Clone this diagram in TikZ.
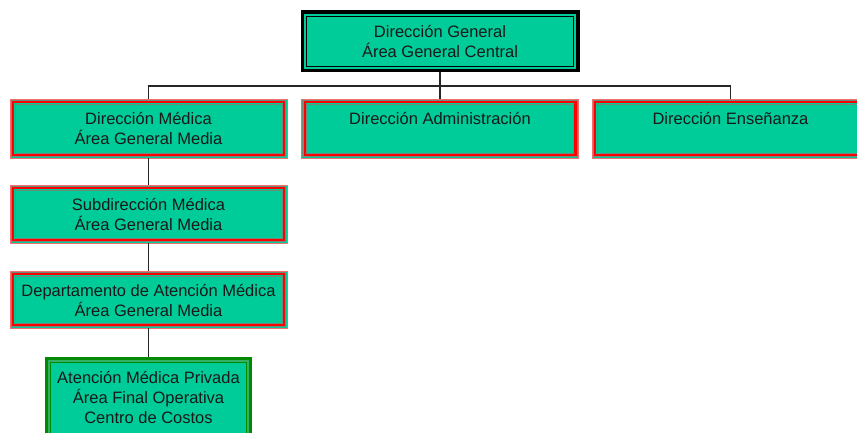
\documentclass[tikz,border=0pt]{standalone}
\usepackage{fontspec}
\setmainfont{Liberation Sans}
\definecolor{boxfill}{HTML}{00CC99}
\definecolor{frred}{HTML}{FF0000}
\definecolor{frpink}{HTML}{F07070}
\definecolor{frgray}{HTML}{6E8A78}
\definecolor{frgreen}{HTML}{008A00}
\definecolor{frlgreen}{HTML}{33B066}
\tikzset{
  box/.style={rectangle, fill=boxfill, inner sep=0pt, outer sep=0pt},
  pinkbox/.style={box, draw=frpink, line width=0.8pt},
  lbl/.style={anchor=north, inner sep=0pt, align=center, font=\fontsize{16.5}{20}\selectfont, text=black!90},
  conn/.style={draw=black!85, line width=1.2pt}
}
\begin{document}
\begin{tikzpicture}[x=1pt,y=-1pt]
\useasboundingbox (0,0) rectangle (857,432);
\clip (0,0) rectangle (857,432);
% boxes
\node[box, minimum width=279, minimum height=62] (top) at (440,41) {};
\node[pinkbox, minimum width=277, minimum height=59] (dm) at (148.5,128.5) {};
\node[pinkbox, minimum width=277, minimum height=59] (da) at (440,128.5) {};
\node[pinkbox, minimum width=277, minimum height=59] (de) at (730.5,128.5) {};
\node[pinkbox, minimum width=277, minimum height=58] (sm) at (148.5,214) {};
\node[pinkbox, minimum width=277, minimum height=57] (dam) at (148.5,299.5) {};
\node[box, minimum width=207, minimum height=85] (amp) at (148.5,399.5) {};
% frames
\foreach \n in {dm,da,de,sm,dam}{
  \draw[frgray, line width=0.7pt] ([shift={(1.2,1.2)}]\n.north west) rectangle ([shift={(-1.2,-1.2)}]\n.south east);
  \draw[frred, line width=2.4pt] ([shift={(3.2,3.2)}]\n.north west) rectangle ([shift={(-3.2,-3.2)}]\n.south east);
  \draw[frgray, line width=0.7pt] ([shift={(4.9,4.9)}]\n.north west) rectangle ([shift={(-4.9,-4.9)}]\n.south east);
}
\draw[black, line width=3.5pt] ([shift={(1.75,1.75)}]top.north west) rectangle ([shift={(-1.75,-1.75)}]top.south east);
\draw[black, line width=1pt] ([shift={(6,6)}]top.north west) rectangle ([shift={(-6,-6)}]top.south east);
\draw[frlgreen, line width=2pt] ([shift={(4,4)}]amp.north west) rectangle ([shift={(-4,-4)}]amp.south east);
\draw[frgreen, line width=3.2pt] ([shift={(1.6,1.6)}]amp.north west) rectangle ([shift={(-1.6,-1.6)}]amp.south east);
\draw[frgreen, line width=1pt] ([shift={(5.8,5.8)}]amp.north west) rectangle ([shift={(-5.8,-5.8)}]amp.south east);
% labels
\node[lbl] (top-t) at ([yshift=-15.5pt]top.north) {Dirección General\\Área General Central};
\node[lbl] (dm-t) at ([yshift=-13pt]dm.north) {Dirección Médica\\Área General Media};
\node[lbl] (da-t) at ([yshift=-13pt]da.north) {Dirección Administración};
\node[lbl] (de-t) at ([yshift=-13pt]de.north) {Dirección Enseñanza};
\node[lbl] (sm-t) at ([yshift=-13pt]sm.north) {Subdirección Médica\\Área General Media};
\node[lbl] (dam-t) at ([yshift=-13pt]dam.north) {Departamento de Atención Médica\\Área General Media};
\node[lbl] (amp-t) at ([yshift=-14.5pt]amp.north) {Atención Médica Privada\\Área Final Operativa\\Centro de Costos};
% connectors
\coordinate (bus) at (440,86);
\draw[conn] (top.south) -- (bus);
\draw[conn] (dm.north) |- (bus) -| (de.north);
\draw[conn] (bus) -- (da.north);
\draw[conn] (dm.south) -- (sm.north);
\draw[conn] (sm.south) -- (dam.north);
\draw[conn] (dam.south) -- (amp.north);
\end{tikzpicture}
\end{document}
